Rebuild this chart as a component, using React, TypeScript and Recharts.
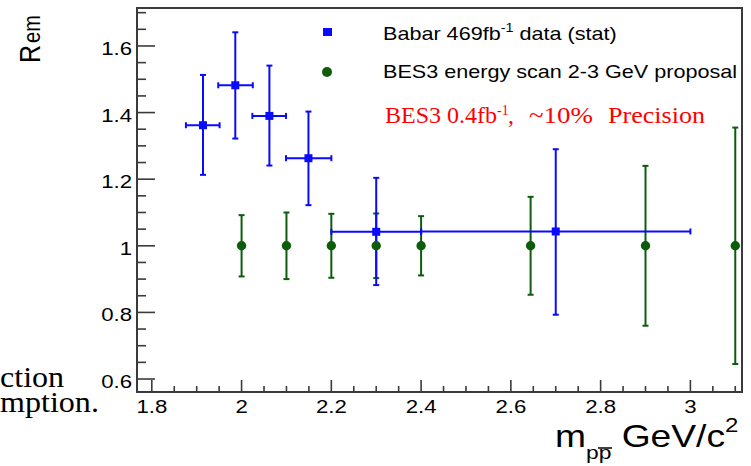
import React from 'react';
import { ScatterChart, Scatter, XAxis, YAxis, ErrorBar, ReferenceArea } from 'recharts';

// Babar 469 fb^-1 points (x = m_ppbar, y = R_em), errors given as bin edges / bounds
const babarX = [1.914, 1.986, 2.062, 2.149, 2.3, 2.7];
const babarY = [1.362, 1.482, 1.39, 1.263, 1.042, 1.043];
const babarXLow = [1.876, 1.948, 2.024, 2.099, 2.2, 2.4];
const babarXHigh = [1.951, 2.025, 2.099, 2.2, 2.4, 3.0];
const babarYLow = [1.213, 1.322, 1.241, 1.122, 0.882, 0.793];
const babarYHigh = [1.513, 1.641, 1.541, 1.403, 1.204, 1.29];

// BES3 energy scan proposal
const besX = [2.0, 2.1, 2.2, 2.3, 2.4, 2.644, 2.9, 3.1];
const besY = [1, 1, 1, 1, 1, 1, 1, 1];
const besErr = [0.092, 0.1, 0.096, 0.097, 0.089, 0.147, 0.24, 0.355];

const xMajor = [1.8, 2.0, 2.2, 2.4, 2.6, 2.8, 3.0];
const xLabels = ['1.8', '2', '2.2', '2.4', '2.6', '2.8', '3'];
const xMinor = [1.85, 1.9, 1.95, 2.05, 2.1, 2.15, 2.25, 2.3, 2.35, 2.45, 2.5, 2.55, 2.65, 2.7, 2.75, 2.85, 2.9, 2.95, 3.05, 3.1];
const yMajor = [0.6, 0.8, 1.0, 1.2, 1.4, 1.6];
const yLabels = ['0.6', '0.8', '1', '1.2', '1.4', '1.6'];
const yMinor = [0.65, 0.7, 0.75, 0.85, 0.9, 0.95, 1.05, 1.1, 1.15, 1.25, 1.3, 1.35, 1.45, 1.5, 1.55, 1.65, 1.7];

const X_DOMAIN: [number, number] = [1.767, 3.115];
const Y_DOMAIN: [number, number] = [0.561, 1.714];

const BLUE = '#0a0aff';
const GREEN = '#0c5c0c';
const AXIS = '#3a3a3a';
const SANS = '"Liberation Sans", Arial, Helvetica, sans-serif';
const SERIF = '"Liberation Serif", "Times New Roman", serif';
const STRETCH = 1.2;

const babarData = babarX.map((x, i) => ({
    x,
    y: babarY[i],
    ex: [x - babarXLow[i], babarXHigh[i] - x],
    ey: [babarY[i] - babarYLow[i], babarYHigh[i] - babarY[i]],
}));

const besData = besX.map((x, i) => ({ x, y: besY[i], ey: besErr[i] }));

const findMajor = (list: number[], v: number) => list.findIndex(m => Math.abs(m - v) < 1e-6);

const XTick = (props: any) => {
    const { x, y, payload } = props;
    const idx = findMajor(xMajor, payload.value);
    const len = idx >= 0 ? 12 : 6;
    return (
        <g>
            <line x1={x} x2={x} y1={y} y2={y - len} stroke={AXIS} strokeWidth={1.6} />
            {idx >= 0 && (
                <text transform={`translate(${x},${y + 21}) scale(${STRETCH},1)`} textAnchor="middle" fontSize={18.5} fontFamily={SANS} fill="#000">
                    {xLabels[idx]}
                </text>
            )}
        </g>
    );
};

const YTick = (props: any) => {
    const { x, y, payload } = props;
    const idx = findMajor(yMajor, payload.value);
    const len = idx >= 0 ? 18 : 9;
    return (
        <g>
            <line x1={x} x2={x + len} y1={y} y2={y} stroke={AXIS} strokeWidth={1.6} />
            {idx >= 0 && (
                <text transform={`translate(${x - 5},${y + 9}) scale(${STRETCH},1)`} textAnchor="end" fontSize={18.5} fontFamily={SANS} fill="#000">
                    {yLabels[idx]}
                </text>
            )}
        </g>
    );
};

const Square = (props: any) => <rect x={props.cx - 4} y={props.cy - 4} width={8} height={8} fill={BLUE} />;
const Dot = (props: any) => <circle cx={props.cx} cy={props.cy} r={4.7} fill={GREEN} />;

export default function App() {
    return (
        <div style={{ position: 'absolute', left: 0, top: 0, width: 751, height: 466, background: '#fff' }}>
            <svg width={751} height={466} style={{ position: 'absolute', left: 0, top: 0 }}>
                {/* bits of slide text behind the plot */}
                <text transform="translate(0,387) scale(1.07,1)" fontSize={30} fontFamily={SERIF} fill="#000">ction</text>
                <text transform="translate(0,412) scale(1.07,1)" fontSize={30} fontFamily={SERIF} fill="#000">mption.</text>
            </svg>
            <div style={{ position: 'absolute', left: 0, top: 0 }}>
                <ScatterChart width={751} height={466} margin={{ top: 8, right: 9, bottom: 0, left: 0 }}>
                    <XAxis
                        type="number"
                        dataKey="x"
                        domain={X_DOMAIN}
                        allowDataOverflow
                        ticks={[...xMajor, ...xMinor].sort((a, b) => a - b)}
                        interval={0}
                        tick={<XTick />}
                        tickLine={false}
                        axisLine={false}
                        tickSize={0}
                        tickMargin={0}
                        height={74}
                    />
                    <YAxis
                        type="number"
                        dataKey="y"
                        domain={Y_DOMAIN}
                        allowDataOverflow
                        ticks={[...yMajor, ...yMinor].sort((a, b) => a - b)}
                        interval={0}
                        tick={<YTick />}
                        tickLine={false}
                        axisLine={false}
                        tickSize={0}
                        tickMargin={0}
                        width={137}
                    />
                    <ReferenceArea x1={X_DOMAIN[0]} x2={X_DOMAIN[1]} y1={Y_DOMAIN[0]} y2={Y_DOMAIN[1]} fill="none" stroke={AXIS} strokeWidth={2} />
                    <Scatter data={besData} shape={<Dot />} isAnimationActive={false}>
                        <ErrorBar dataKey="ey" direction="y" width={3} stroke={GREEN} strokeWidth={2} />
                    </Scatter>
                    <Scatter data={babarData} shape={<Square />} isAnimationActive={false}>
                        <ErrorBar dataKey="ex" direction="x" width={3} stroke={BLUE} strokeWidth={2} />
                        <ErrorBar dataKey="ey" direction="y" width={3} stroke={BLUE} strokeWidth={2} />
                    </Scatter>
                </ScatterChart>
            </div>
            <svg width={751} height={466} style={{ position: 'absolute', left: 0, top: 0, pointerEvents: 'none' }}>
                {/* legend */}
                <rect x={323} y={28} width={9} height={8} fill={BLUE} />
                <circle cx={327} cy={72} r={5} fill={GREEN} />
                <text transform={`translate(383,40) scale(${STRETCH},1)`} fontSize={18} fontFamily={SANS} fill="#000">
                    Babar 469fb<tspan dy={-8} fontSize={12}>-1</tspan><tspan dy={8}> data (stat)</tspan>
                </text>
                <text transform={`translate(383,78) scale(${STRETCH},1)`} fontSize={18} fontFamily={SANS} fill="#000">
                    BES3 energy scan 2-3 GeV proposal
                </text>
                <text x={385} y={123} fontSize={24} fontFamily={SERIF} fill="#ff0000">BES3 0.4fb</text>
                <text x={497} y={115} fontSize={14} fontFamily={SERIF} fill="#ff0000">-1</text>
                <text x={508} y={123} fontSize={24} fontFamily={SERIF} fill="#ff0000">,</text>
                <text x={529} y={123} fontSize={24} fontFamily={SERIF} fill="#ff0000" textLength={64} lengthAdjust="spacingAndGlyphs">~10%</text>
                <text x={608} y={123} fontSize={24} fontFamily={SERIF} fill="#ff0000" textLength={97} lengthAdjust="spacingAndGlyphs">Precision</text>

                {/* y title */}
                <text transform={`translate(40,63) scale(${STRETCH},1) rotate(-90)`} fontSize={25} fontFamily={SANS} fill="#000">
                    R<tspan dx={2} dy={0} fontSize={20}>em</tspan>
                </text>

                {/* x title */}
                <text transform={`translate(555,447) scale(${STRETCH},1)`} fontSize={31} fontFamily={SANS} fill="#000">
                    m<tspan dy={12} fontSize={19}>pp</tspan><tspan dy={-12}> GeV/c</tspan><tspan dy={-15} fontSize={20}>2</tspan>
                </text>
                <line x1={598} x2={612} y1={448} y2={448} stroke="#000" strokeWidth={1.5} />
            </svg>
        </div>
    );
}
